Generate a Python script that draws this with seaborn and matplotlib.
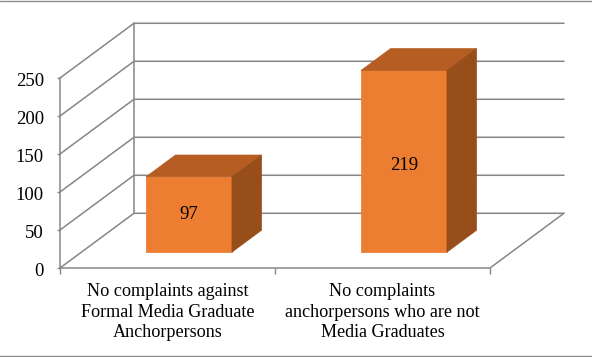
import pandas as pd
import matplotlib
matplotlib.use("Agg")
import matplotlib.pyplot as plt
from matplotlib.lines import Line2D
from matplotlib.patches import Polygon
from matplotlib.transforms import ScaledTranslation
import seaborn as sns

# ---------------------- DATA ----------------------
categories = [
    "No complaints against\nFormal Media Graduate\nAnchorpersons",
    "No complaints\nanchorpersons who are not\nMedia Graduates",
]
# drawn bar heights as read against the axis (the printed labels differ from them)
bar_heights = [99, 239]
bar_labels = ["97", "219"]
y_ticks = [0, 50, 100, 150, 200, 250]

# ---------------------- STYLE ----------------------
FRONT = "#ED7D31"
TOP = "#B55D22"
SIDE = "#984E1A"
GRID = "#868686"

# fake 3D box: depth of the chart and of the bars, in data units
DEPTH_X, DEPTH_Y = 0.344, 72
BAR_START = 0.29   # bars stand this far back on the floor
BAR_DEPTH = 0.40

df = pd.DataFrame({"category": categories, "height": bar_heights})

sns.set_theme(style="ticks")
plt.rcParams["font.family"] = ["Liberation Serif", "DejaVu Serif"]

fig = plt.figure(figsize=(5.92, 3.57), dpi=100)
ax = fig.add_axes([60 / 592, 1 - 268 / 357, 430 / 592, 190 / 357])

sns.barplot(data=df, x="category", y="height", color=FRONT, saturation=1,
            width=0.4, ax=ax, zorder=3)
ax.set_xlim(-0.5, 1.5)
ax.set_ylim(0, 250)
ax.set_yticks(y_ticks)

# back wall and floor lines
x0, x1 = ax.get_xlim()
for t in y_ticks:
    ax.plot([x0, x0 + DEPTH_X, x1 + DEPTH_X], [t, t + DEPTH_Y, t + DEPTH_Y],
            color=GRID, lw=1.1, clip_on=False, zorder=1)
ax.plot([x0 + DEPTH_X, x0 + DEPTH_X], [DEPTH_Y, y_ticks[-1] + DEPTH_Y],
        color=GRID, lw=1.1, clip_on=False, zorder=1)
ax.plot([x1, x1 + DEPTH_X], [0, DEPTH_Y], color=GRID, lw=1.1, clip_on=False, zorder=1)

# push the front faces back and add top and side faces
dx, dy = DEPTH_X * BAR_START, DEPTH_Y * BAR_START
bx, by = DEPTH_X * BAR_DEPTH, DEPTH_Y * BAR_DEPTH
for bar in ax.containers[0]:
    bar.set_x(bar.get_x() + dx)
    bar.set_y(bar.get_y() + dy)
    bar.set_edgecolor("#E8823F")
    bar.set_linewidth(0.6)
    left, right = bar.get_x(), bar.get_x() + bar.get_width()
    low, high = bar.get_y(), bar.get_y() + bar.get_height()
    ax.add_patch(Polygon([(left, high), (right, high), (right + bx, high + by), (left + bx, high + by)],
                         closed=True, fc=TOP, ec=TOP, lw=0.5, clip_on=False, zorder=3))
    ax.add_patch(Polygon([(right, low), (right + bx, low + by), (right + bx, high + by), (right, high)],
                         closed=True, fc=SIDE, ec=SIDE, lw=0.5, clip_on=False, zorder=3))
    bar.set_clip_on(False)

ax.bar_label(ax.containers[0], labels=bar_labels, label_type="center",
             fontsize=13.5, color="black")

ax.set_xlabel("")
ax.set_ylabel("")
sns.despine(ax=ax)
for side in ["left", "bottom"]:
    ax.spines[side].set_color(GRID)
    ax.spines[side].set_linewidth(1.1)

# axis ticks: x ticks sit between the categories
ax.set_xticks([0, 1], labels=categories)
ax.tick_params(axis="x", length=0, labelsize=13.1, pad=11, colors="black")
ax.tick_params(axis="y", length=2.5, width=1, color=GRID, labelsize=13.5, pad=9, labelcolor="black")
ax.set_xticks([-0.5, 0.5, 1.5], minor=True)
ax.tick_params(axis="x", which="minor", length=4, width=1, color=GRID)
for label in ax.get_xticklabels():
    label.set_linespacing(1.27)

# y labels sit a touch lower than the ticks
nudge = ScaledTranslation(0, -1.5 / 100, fig.dpi_scale_trans)
for label in ax.get_yticklabels():
    label.set_transform(label.get_transform() + nudge)

# thin rules at top and bottom of the image
for y_fig in [1 - 0.5 / 357, 1 - 356 / 357]:
    fig.add_artist(Line2D([0, 1], [y_fig, y_fig], color="#8C8C8C", lw=1))

fig.savefig("out.png", dpi=100)
